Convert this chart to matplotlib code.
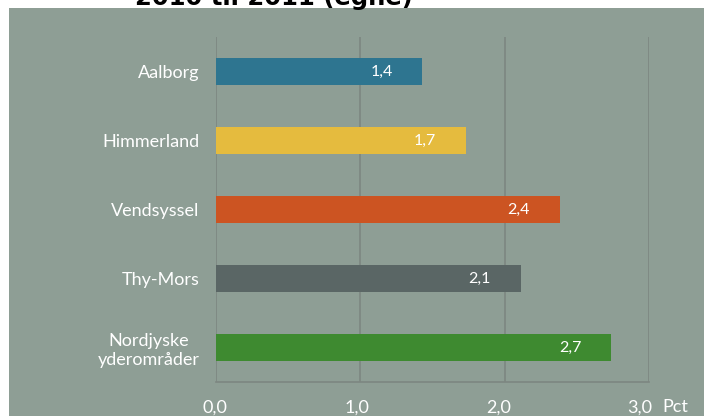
import matplotlib.pyplot as plt
import matplotlib.transforms as mtransforms
from matplotlib.patches import Rectangle

# Data
omraader = ['Aalborg', 'Himmerland', 'Vendsyssel', 'Thy-Mors', 'Nordjyske\nyderområder']
vaerdier = [1.43, 1.73, 2.38, 2.11, 2.74]
etiketter = ['1,4', '1,7', '2,4', '2,1', '2,7']
farver = ['#2E7590', '#E5BB3E', '#CC5422', '#5A6665', '#3E8A30']
xticks = [0, 1, 2, 3]
xtick_labels = ['0,0', '1,0', '2,0', '3,0']

plt.rcParams['font.family'] = ['Lato', 'DejaVu Sans']

W, H = 713, 416
fig = plt.figure(figsize=(W / 100, H / 100), dpi=100)
fig.patch.set_facecolor('white')

# Grey chart area
bg = '#8E9E95'
fig.patches.append(Rectangle((9 / W, 0), 695 / W, (H - 8) / H, transform=fig.transFigure,
                             facecolor=bg, edgecolor='none', zorder=-5))

# Title (cut off at the top)
fig.text(135 / W, 1 - 5 / H, '2010 til 2011 (egne)', fontsize=17.5, fontweight='bold',
         family='DejaVu Sans', color='black', ha='left', va='baseline', zorder=5)

ax = fig.add_axes([216 / W, (H - 382) / H, (649 - 216) / W, (382 - 37) / H])
ax.set_facecolor('none')

y = list(range(len(omraader)))
ax.barh(y, vaerdier, height=0.4, color=farver, zorder=3)

for yi, v, lab in zip(y, vaerdier, etiketter):
    ax.annotate(lab, xy=(v, yi), xytext=(-41 * 0.72, 0), textcoords='offset points',
                ha='center', va='center', color='white', fontsize=11.5, zorder=4)

ax.set_xlim(0, 3)
ax.set_ylim(len(omraader) - 0.5, -0.5)
ax.set_xticks(xticks)
ax.set_xticklabels(xtick_labels, color='white', fontsize=13)
ax.set_yticks(y)
ax.set_yticklabels(omraader, color='white', fontsize=13, multialignment='center')
ax.tick_params(axis='both', length=0)
ax.tick_params(axis='x', pad=13)
ax.tick_params(axis='y', pad=12)

# Excel nudger akseetiketterne lidt mod venstre
for lbl, dx in zip(ax.get_xticklabels(), [-1, -3, -6, -9]):
    lbl.set_transform(lbl.get_transform() + mtransforms.ScaledTranslation(dx / 100, 0, fig.dpi_scale_trans))

ax.grid(axis='x', color='#7D8781', linewidth=1.2, zorder=1)
for s in ['top', 'right', 'left']:
    ax.spines[s].set_visible(False)
ax.spines['bottom'].set_color('#7D8781')
ax.spines['bottom'].set_linewidth(1.2)

fig.text(675 / W, 1 - 407 / H, 'Pct', color='white', fontsize=13, ha='center', va='center')

fig.savefig('out.png', dpi=100)
